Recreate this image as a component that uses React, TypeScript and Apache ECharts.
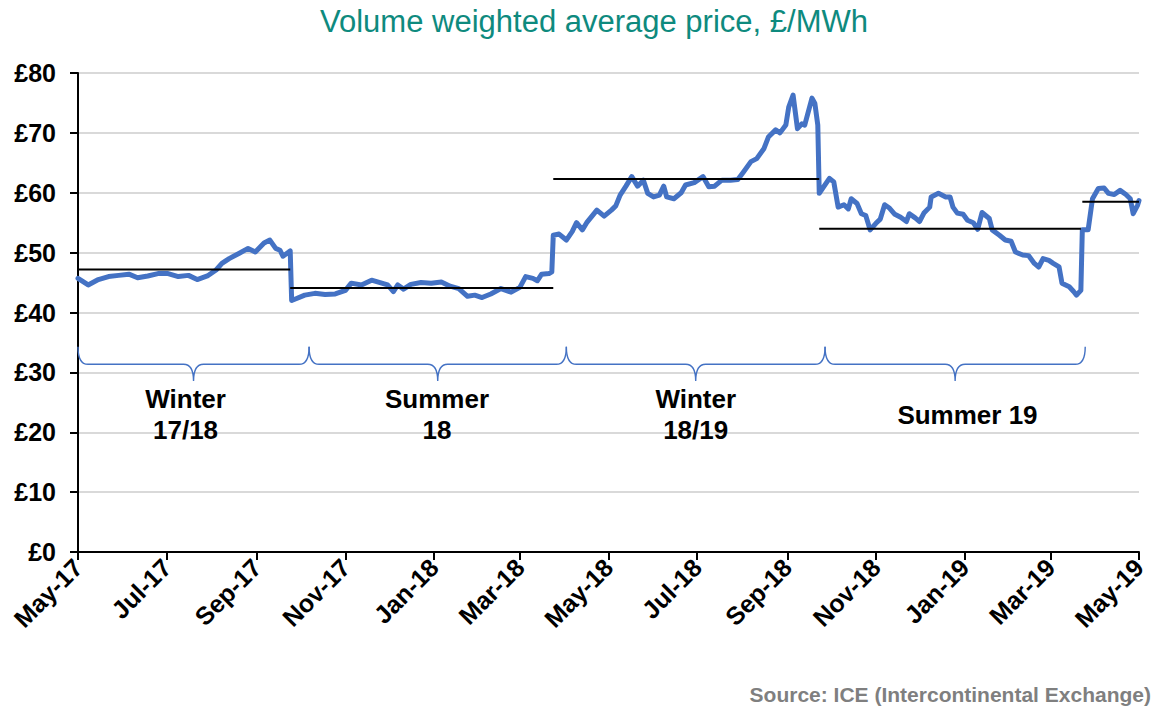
import React, { useEffect, useRef } from "react";
import * as echarts from "echarts";

// ---- Data ----
const priceDates: string[] = [
  "2017-05-01","2017-05-08","2017-05-15","2017-05-22","2017-05-29","2017-06-05","2017-06-11","2017-06-18","2017-06-25",
  "2017-07-02","2017-07-09","2017-07-16","2017-07-22","2017-07-29","2017-08-04","2017-08-08","2017-08-13","2017-08-20",
  "2017-08-26","2017-08-31","2017-09-06","2017-09-10","2017-09-14","2017-09-17","2017-09-19","2017-09-23","2017-09-24",
  "2017-09-25","2017-09-28","2017-10-04","2017-10-11","2017-10-18","2017-10-25","2017-11-01","2017-11-05","2017-11-12",
  "2017-11-19","2017-11-26","2017-11-30","2017-12-04","2017-12-07","2017-12-11","2017-12-16","2017-12-23","2017-12-30",
  "2018-01-06","2018-01-12","2018-01-18","2018-01-24","2018-01-29","2018-02-03","2018-02-09","2018-02-16","2018-02-23",
  "2018-03-01","2018-03-05","2018-03-10","2018-03-13","2018-03-16","2018-03-21","2018-03-23","2018-03-24","2018-03-28",
  "2018-04-02","2018-04-06","2018-04-09","2018-04-13","2018-04-16","2018-04-23","2018-04-28","2018-05-03","2018-05-06",
  "2018-05-09","2018-05-13","2018-05-17","2018-05-21","2018-05-25","2018-05-28","2018-06-01","2018-06-05","2018-06-08",
  "2018-06-10","2018-06-15","2018-06-20","2018-06-23","2018-06-29","2018-07-05","2018-07-09","2018-07-13","2018-07-18",
  "2018-07-24","2018-07-29","2018-08-02","2018-08-07","2018-08-11","2018-08-16","2018-08-19","2018-08-24","2018-08-27",
  "2018-08-31","2018-09-02","2018-09-05","2018-09-08","2018-09-11","2018-09-13","2018-09-18","2018-09-20","2018-09-22",
  "2018-09-23","2018-09-26","2018-09-30","2018-10-03","2018-10-06","2018-10-10","2018-10-13","2018-10-15","2018-10-19",
  "2018-10-22","2018-10-25","2018-10-28","2018-11-01","2018-11-04","2018-11-07","2018-11-10","2018-11-14","2018-11-18",
  "2018-11-22","2018-11-24","2018-11-28","2018-12-01","2018-12-04","2018-12-08","2018-12-09","2018-12-14","2018-12-19",
  "2018-12-22","2018-12-24","2018-12-27","2018-12-31","2019-01-03","2019-01-07","2019-01-10","2019-01-13","2019-01-18",
  "2019-01-20","2019-01-25","2019-01-29","2019-02-02","2019-02-05","2019-02-10","2019-02-14","2019-02-18","2019-02-21",
  "2019-02-24","2019-02-28","2019-03-03","2019-03-07","2019-03-09","2019-03-14","2019-03-17","2019-03-19","2019-03-22",
  "2019-03-23","2019-03-27","2019-03-30","2019-04-03","2019-04-07","2019-04-10","2019-04-14","2019-04-18","2019-04-22",
  "2019-04-25","2019-04-27","2019-04-30","2019-05-01",
];
const priceValues: number[] = [
  45.7,44.6,45.5,46.0,46.2,46.4,45.8,46.1,46.5,
  46.5,46.0,46.2,45.5,46.1,47.1,48.2,49.0,49.9,
  50.7,50.1,51.6,52.1,50.7,50.4,49.4,50.1,50.3,
  42.0,42.3,42.9,43.2,43.0,43.1,43.7,44.9,44.6,
  45.4,44.9,44.6,43.5,44.6,43.9,44.7,45.0,44.9,
  45.1,44.4,44.0,42.7,42.9,42.5,43.1,44.0,43.4,
  44.2,46.0,45.7,45.3,46.4,46.5,46.8,52.9,53.1,
  52.1,53.5,55.0,53.8,55.0,57.1,56.1,57.1,57.8,
  59.6,61.1,62.7,61.1,62.1,59.9,59.3,59.6,61.1,
  59.3,59.0,60.0,61.3,61.7,62.7,61.0,61.1,62.1,
  62.1,62.2,63.5,65.2,65.7,67.4,69.3,70.5,70.0,
  71.3,74.3,76.3,70.7,71.5,71.3,75.8,74.9,71.3,
  59.9,61.0,62.4,61.8,57.6,58.0,57.3,59.0,58.2,
  56.5,56.2,53.8,54.9,55.6,58.0,57.5,56.4,55.9,
  55.2,56.5,55.8,55.2,56.6,57.6,59.3,59.9,59.3,
  59.3,57.6,56.6,56.4,55.4,55.0,53.9,56.7,55.7,
  53.8,52.9,52.1,51.9,50.1,49.6,49.5,48.2,47.6,
  49.0,48.7,48.2,47.6,44.9,44.3,43.5,42.9,43.7,
  53.8,53.8,59.0,60.7,60.8,59.9,59.7,60.4,59.7,
  59.0,56.5,57.9,58.7,
];

const seasonStart: string[] = ["2017-05-01", "2017-09-24", "2018-03-24", "2018-09-23", "2019-03-23"];
const seasonEnd: string[] = ["2017-09-24", "2018-03-24", "2018-09-23", "2019-03-22", "2019-05-01"];
const seasonAvg: number[] = [47.2, 44.1, 62.3, 54.0, 58.5];

const braceStart: string[] = ["2017-05-01", "2017-10-07", "2018-04-02", "2018-09-27"];
const braceEnd: string[] = ["2017-10-07", "2018-04-02", "2018-09-27", "2019-03-25"];
const braceLabels: string[] = ["Winter\n17/18", "Summer\n18", "Winter\n18/19", "Summer 19"];
const braceLabelDates: string[] = ["2017-07-14", "2018-01-03", "2018-06-30", "2019-01-03"];

const xTickDates: string[] = [
  "2017-05-01","2017-07-01","2017-09-01","2017-11-01","2018-01-01","2018-03-01","2018-05-01",
  "2018-07-01","2018-09-01","2018-11-01","2019-01-01","2019-03-01","2019-05-01",
];
const monthNames: string[] = ["Jan","Feb","Mar","Apr","May","Jun","Jul","Aug","Sep","Oct","Nov","Dec"];
const yTicks: number[] = [0, 10, 20, 30, 40, 50, 60, 70, 80];

const ts = (s: string): number => {
  const [y, m, d] = s.split("-").map(Number);
  return new Date(y, m - 1, d).getTime();
};

const FONT = "'Liberation Sans', Arial, sans-serif";
const BLUE = "#4472C4";

export default function App() {
  const ref = useRef<HTMLDivElement>(null);
  useEffect(() => {
    if (!ref.current) return;
    const chart = echarts.init(ref.current, undefined, { renderer: "svg" });

    const priceData = priceDates.map((d, i) => [ts(d), priceValues[i]]);
    const seasonData: any[] = [];
    seasonAvg.forEach((v, i) => {
      if (i > 0) seasonData.push([ts(seasonStart[i]), "-"]);
      seasonData.push([ts(seasonStart[i]), v]);
      seasonData.push([ts(seasonEnd[i]), v]);
    });
    const braceData = braceStart.map((s, i) => [ts(s), ts(braceEnd[i]), 30]);
    const labelData = braceLabels.map((t, i) => [ts(braceLabelDates[i]), 22.9, i]);
    const tickTs = xTickDates.map(ts);

    chart.setOption({
      animation: false,
      grid: { left: 78, right: 20, top: 73, bottom: 156, containLabel: false },
      graphic: [
        {
          type: "text",
          style: {
            text: "Volume weighted average price, £/MWh",
            x: 594,
            y: 21,
            textAlign: "center",
            textVerticalAlign: "middle",
            fill: "#0E8A7E",
            font: `31px ${FONT}`,
          },
        },
        {
          type: "text",
          style: {
            text: "Source: ICE (Intercontinental Exchange)",
            x: 1151,
            y: 694,
            textAlign: "right",
            textVerticalAlign: "middle",
            fill: "#7F7F7F",
            font: `bold 21px ${FONT}`,
          },
        },
      ],
      xAxis: {
        type: "value",
        min: ts("2017-05-01"),
        max: ts("2019-05-01"),
        axisLine: { show: true, lineStyle: { color: "#000", width: 2 } },
        axisTick: { show: true, customValues: tickTs, length: 8, lineStyle: { color: "#000", width: 2 } },
        axisLabel: {
          customValues: tickTs,
          rotate: 45,
          margin: 11,
          color: "#000",
          fontFamily: FONT,
          fontWeight: "bold",
          fontSize: 25,
          formatter: (v: number) => {
            const d = new Date(v);
            return monthNames[d.getMonth()] + "-" + String(d.getFullYear()).slice(2);
          },
        },
        splitLine: { show: false },
      },
      yAxis: {
        type: "value",
        min: 0,
        max: 80,
        interval: 10,
        axisLine: { show: true, lineStyle: { color: "#000", width: 2 } },
        axisTick: { show: true, length: 8, lineStyle: { color: "#000", width: 2 } },
        axisLabel: {
          margin: 22,
          color: "#000",
          fontFamily: FONT,
          fontWeight: "bold",
          fontSize: 25,
          formatter: (v: number) => (yTicks.includes(v) ? "£" + v : ""),
        },
        splitLine: { show: true, lineStyle: { color: "#D9D9D9", width: 2 } },
      },
      series: [
        {
          type: "custom",
          name: "braces",
          encode: { x: [0, 1], y: 2 },
          data: braceData,
          silent: true,
          renderItem: (params: any, api: any) => {
            const s = api.value(0);
            const e = api.value(1);
            const p0 = api.coord([s, 34.3]);
            const p1 = api.coord([e, 34.3]);
            const yMid = api.coord([s, 31.35])[1];
            const yTip = api.coord([s, 28.55])[1];
            const x0 = p0[0];
            const x1 = p1[0];
            const yTop = p0[1];
            const xm = (x0 + x1) / 2;
            const r = 10;
            const d =
              `M${x0},${yTop} Q${x0},${yMid} ${x0 + r},${yMid} L${xm - r},${yMid} ` +
              `Q${xm},${yMid} ${xm},${yTip} Q${xm},${yMid} ${xm + r},${yMid} ` +
              `L${x1 - r},${yMid} Q${x1},${yMid} ${x1},${yTop}`;
            return {
              type: "path",
              shape: { pathData: d },
              style: { fill: "none", stroke: BLUE, lineWidth: 1.4 },
            };
          },
          z: 3,
        },
        {
          type: "custom",
          name: "braceLabels",
          encode: { x: 0, y: 1 },
          data: labelData,
          silent: true,
          renderItem: (params: any, api: any) => {
            const p = api.coord([api.value(0), api.value(1)]);
            const idx = api.value(2);
            return {
              type: "text",
              style: {
                text: braceLabels[idx],
                x: p[0],
                y: p[1],
                textAlign: "center",
                textVerticalAlign: "middle",
                fill: "#000",
                font: `bold 26px ${FONT}`,
                lineHeight: 31,
              },
            };
          },
          z: 3,
        },
        {
          type: "line",
          name: "VWAP",
          data: priceData,
          showSymbol: false,
          symbol: "none",
          lineStyle: { color: BLUE, width: 5, join: "round", cap: "round" },
          itemStyle: { color: BLUE },
          z: 4,
        },
        {
          type: "line",
          name: "Season average",
          data: seasonData,
          showSymbol: false,
          symbol: "none",
          connectNulls: false,
          lineStyle: { color: "#000", width: 2 },
          itemStyle: { color: "#000" },
          z: 5,
        },
      ],
    });
    return () => chart.dispose();
  }, []);
  return (
    <div
      ref={ref}
      style={{ position: "fixed", left: 0, top: 0, width: 1159, height: 708, background: "#fff" }}
    />
  );
}
